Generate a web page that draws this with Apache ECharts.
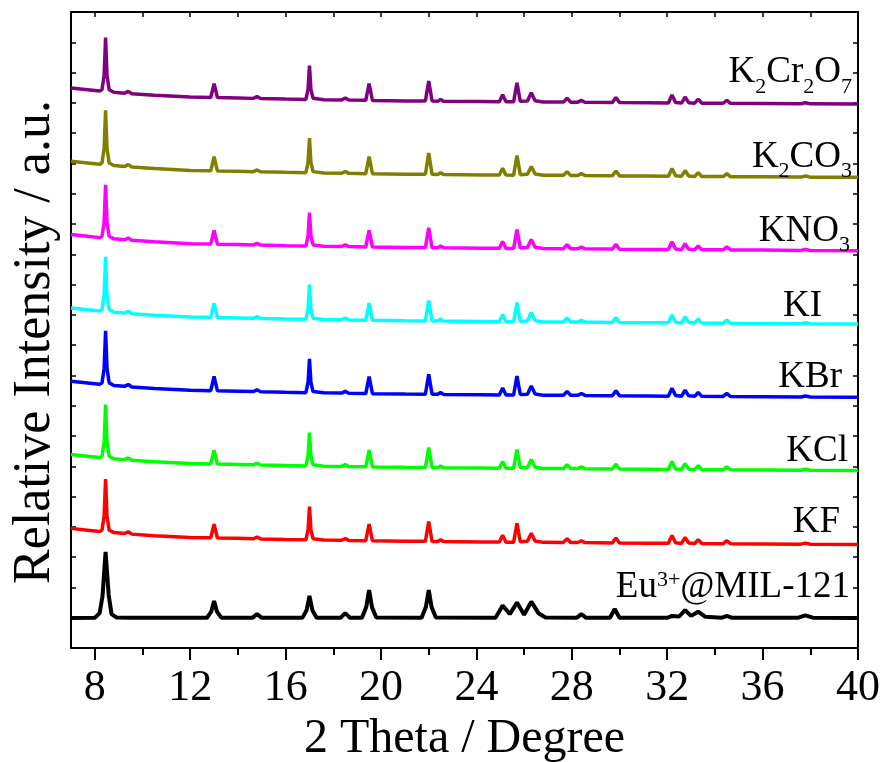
<!DOCTYPE html>
<html>
<head>
<meta charset="utf-8">
<script src="https://cdn.jsdelivr.net/npm/echarts@6/dist/echarts.min.js"></script>
<style>
  html, body { margin: 0; padding: 0; background: #fff; }
  #chart { width: 888px; height: 762px; }
</style>
</head>
<body>
<div id="chart"></div>
<script>
// 2θ grid shared by the potassium-salt patterns
const thetaK = [7.0, 7.6, 8.2, 8.3, 8.39, 8.45, 8.51, 8.6, 8.8, 9.25, 9.4, 9.55, 10.5, 12.0, 12.86, 13.0, 13.14, 14.0, 14.65, 14.8,
  14.95, 16.0, 16.85, 16.94, 17.0, 17.06, 17.15, 17.6, 18.35, 18.5, 18.65, 19.36, 19.5, 19.64, 21.0, 21.86, 22.0, 22.14, 22.38, 22.5,
  22.62, 24.2, 24.96, 25.1, 25.24, 25.56, 25.7, 25.84, 26.14, 26.3, 26.46, 26.8, 27.65, 27.8, 27.95, 28.25, 28.4, 28.55, 29.7, 29.85,
  30.0, 31.2, 32.05, 32.2, 32.35, 32.6, 32.75, 32.9, 33.15, 33.3, 33.45, 34.35, 34.5, 34.65, 36.0, 37.6, 37.8, 38.0, 40.0];

// relative intensities (a.u.) on thetaK
const intK2Cr2O7 = [530, 480, 430, 472, 952, 2195, 946, 475, 390, 360, 420, 340, 290, 230, 217, 675, 213, 200, 188, 245,
  183, 165, 152, 487, 1270, 486, 189, 145, 137, 195, 133, 122, 680, 118, 105, 101, 760, 99, 96, 155,
  94, 82, 76, 305, 74, 73, 702, 90, 101, 370, 110, 68, 66, 195, 64, 63, 122, 61, 51, 215,
  49, 42, 36, 300, 54, 33, 232, 46, 30, 160, 29, 26, 125, 24, 18, 9, 43, 7, 0];
const intK2CO3 = [530, 480, 430, 472, 958, 2215, 952, 475, 390, 360, 420, 340, 290, 230, 217, 680, 213, 200, 188, 245,
  183, 165, 152, 496, 1300, 495, 189, 145, 137, 195, 133, 122, 690, 118, 105, 101, 800, 99, 96, 155,
  94, 82, 76, 300, 74, 73, 722, 90, 101, 360, 110, 68, 66, 190, 64, 63, 122, 61, 51, 210,
  49, 42, 36, 290, 54, 33, 225, 46, 30, 155, 29, 26, 120, 24, 18, 9, 43, 7, 0];
const intKNO3 = [530, 480, 430, 470, 945, 2175, 940, 473, 390, 360, 418, 340, 290, 230, 217, 670, 213, 200, 188, 240,
  183, 165, 152, 484, 1260, 483, 189, 145, 137, 192, 133, 122, 672, 118, 105, 101, 752, 99, 96, 150,
  94, 82, 76, 300, 74, 73, 700, 90, 101, 372, 110, 68, 66, 195, 64, 63, 120, 61, 51, 212,
  49, 42, 36, 295, 54, 33, 228, 46, 30, 158, 29, 26, 122, 24, 18, 9, 43, 7, 0];
const intKI = [530, 480, 430, 474, 958, 2215, 952, 476, 390, 360, 420, 340, 290, 230, 217, 678, 213, 200, 188, 245,
  183, 165, 152, 496, 1300, 495, 189, 145, 137, 195, 133, 122, 688, 118, 105, 101, 770, 99, 96, 155,
  94, 82, 76, 302, 74, 73, 710, 90, 101, 375, 110, 68, 66, 195, 64, 63, 122, 61, 51, 215,
  49, 42, 36, 298, 54, 33, 230, 46, 30, 160, 29, 26, 125, 24, 18, 9, 43, 7, 0];
const intKBr = [530, 480, 430, 472, 952, 2195, 946, 475, 390, 360, 420, 340, 290, 230, 217, 685, 213, 200, 188, 245,
  183, 165, 152, 487, 1270, 486, 189, 145, 137, 195, 133, 122, 680, 118, 105, 101, 760, 99, 96, 155,
  94, 82, 76, 305, 74, 73, 700, 90, 101, 370, 110, 68, 66, 195, 64, 63, 122, 61, 51, 215,
  49, 42, 36, 300, 54, 33, 232, 46, 30, 160, 29, 26, 125, 24, 18, 9, 43, 7, 0];
const intKCl = [530, 480, 430, 470, 945, 2175, 940, 473, 390, 360, 418, 340, 290, 230, 217, 670, 213, 200, 188, 242,
  183, 165, 152, 480, 1250, 480, 189, 145, 137, 193, 133, 122, 675, 118, 105, 101, 755, 99, 96, 152,
  94, 82, 76, 300, 74, 73, 695, 90, 101, 365, 110, 68, 66, 192, 64, 63, 120, 61, 51, 210,
  49, 42, 36, 295, 54, 33, 228, 46, 30, 158, 29, 26, 122, 24, 18, 9, 43, 7, 0];
const intKF = [530, 480, 430, 468, 940, 2155, 935, 472, 390, 360, 418, 340, 290, 230, 217, 665, 213, 200, 188, 242,
  183, 165, 152, 480, 1250, 480, 189, 145, 137, 193, 133, 122, 675, 118, 105, 101, 755, 99, 96, 152,
  94, 82, 76, 300, 74, 73, 695, 90, 101, 365, 110, 68, 66, 192, 64, 63, 120, 61, 51, 210,
  49, 42, 36, 295, 54, 33, 228, 46, 30, 158, 29, 26, 122, 24, 18, 9, 43, 7, 0];

// Eu3+@MIL-121 pattern, its own 2θ grid
const thetaEu = [7.0, 8.0, 8.2, 8.32, 8.45, 8.58, 8.7, 8.9, 9.5, 12.7, 12.88, 13.0, 13.12, 13.3, 14.6, 14.8, 15.0, 16.7, 16.88, 17.0,
  17.12, 17.3, 18.3, 18.5, 18.7, 19.2, 19.38, 19.5, 19.62, 19.8, 21.7, 21.88, 22.0, 22.12, 22.3, 24.8, 25.1, 25.4, 25.7, 26.0,
  26.3, 26.6, 26.9, 28.2, 28.4, 28.6, 29.6, 29.8, 30.0, 32.0, 32.2, 32.5, 32.75, 33.0, 33.3, 33.6, 34.3, 34.5, 34.7, 37.5,
  37.8, 38.1, 40.0];
const intEu = [990, 1000, 1150, 1700, 3170, 1750, 1120, 1010, 995, 995, 1200, 1550, 1200, 1000, 995, 1120, 995, 995, 1250, 1720,
  1250, 1000, 995, 1150, 995, 1000, 1350, 1910, 1350, 1010, 995, 1350, 1910, 1350, 1010, 1000, 1400, 1120, 1500, 1100,
  1530, 1150, 1010, 995, 1120, 995, 1000, 1290, 1000, 995, 1060, 1040, 1250, 1060, 1200, 1030, 1000, 1060, 1000, 1000,
  1080, 1000, 990];

// vertical stacking offset of each pattern, bottom to top
const sampleNames = ['Eu3+@MIL-121', 'KF', 'KCl', 'KBr', 'KI', 'KNO3', 'K2CO3', 'K2Cr2O7'];
const stackOffset = [0, 3420, 5860, 8280, 10700, 13120, 15540, 17960];

const majorTicks = [8, 12, 16, 20, 24, 28, 32, 36, 40];
const minorTicks = [10, 14, 18, 22, 26, 30, 34, 38];
const topTicks = [8, 10, 12, 14, 16, 18, 20, 22, 24, 26, 28, 30, 32, 34, 36, 38, 40];

const FONT = 'Liberation Serif';
const lineColors = ['#000000', '#ff0000', '#00ff00', '#0000ff', '#00ffff', '#ff00ff', '#808000', '#800080'];
const labelRich = {
  'Eu3+@MIL-121': '{m|Eu}{p|3+}{m|@MIL-121}',
  KF: '{m|KF}',
  KCl: '{m|KCl}',
  KBr: '{m|KBr}',
  KI: '{m|KI}',
  KNO3: '{m|KNO}{s|3}',
  K2CO3: '{m|K}{s|2}{m|CO}{s|3}',
  K2Cr2O7: '{m|K}{s|2}{m|Cr}{s|2}{m|O}{s|7}'
};
// label nudge [x, y] in px from the line end
const labelShift = [[-8, -5], [-18, 3], [-10, 6], [-16, 6], [-36, 8], [-8, 6], [-6, 5], [-6, -6]];

const chart = echarts.init(document.getElementById('chart'));

const patterns = [
  [thetaEu, intEu], [thetaK, intKF], [thetaK, intKCl], [thetaK, intKBr],
  [thetaK, intKI], [thetaK, intKNO3], [thetaK, intK2CO3], [thetaK, intK2Cr2O7]
];

const series = patterns.map(([xs, ys], i) => ({
  name: sampleNames[i],
  type: 'line',
  showSymbol: false,
  symbol: 'none',
  silent: true,
  lineStyle: { color: lineColors[i], width: i === 0 ? 4 : 3.5 },
  data: xs.map((x, k) => [x, ys[k] + stackOffset[i]]),
  endLabel: {
    show: true,
    distance: 0,
    align: 'right',
    verticalAlign: 'bottom',
    offset: labelShift[i],
    formatter: labelRich[sampleNames[i]],
    rich: {
      m: { fontFamily: FONT, fontSize: 37, lineHeight: 44, color: '#000', verticalAlign: 'top' },
      s: { fontFamily: FONT, fontSize: 22, lineHeight: 12, color: '#000', verticalAlign: 'bottom' },
      p: { fontFamily: FONT, fontSize: 22, lineHeight: 16, color: '#000', verticalAlign: 'top' }
    }
  }
}));

const axisLineStyle = { color: '#000', width: 2 };

chart.setOption({
  animation: false,
  backgroundColor: '#fff',
  grid: { left: 71, right: 30, top: 12, bottom: 114, outerBoundsMode: 'none' },
  xAxis: [
    {
      type: 'value', min: 7, max: 40, position: 'bottom',
      axisLine: { show: true, lineStyle: axisLineStyle },
      axisTick: { show: true, customValues: majorTicks, length: 12, lineStyle: { color: '#000', width: 2 } },
      axisLabel: { customValues: majorTicks, margin: 18, fontSize: 44, fontFamily: FONT, color: '#000' },
      splitLine: { show: false },
      name: '2 Theta / Degree', nameLocation: 'middle', nameGap: 63,
      nameTextStyle: { fontSize: 48, fontFamily: FONT, color: '#000' }
    },
    {
      type: 'value', min: 7, max: 40, position: 'bottom',
      axisLine: { show: false },
      axisTick: { show: true, customValues: minorTicks, length: 7, lineStyle: { color: '#000', width: 2 } },
      axisLabel: { show: false },
      splitLine: { show: false }
    },
    {
      type: 'value', min: 7, max: 40, position: 'top',
      axisLine: { show: true, lineStyle: axisLineStyle },
      axisTick: { show: true, inside: true, customValues: topTicks, length: 5, lineStyle: { color: '#000', width: 1.5 } },
      axisLabel: { show: false },
      splitLine: { show: false }
    }
  ],
  yAxis: [
    {
      type: 'value', min: 0, max: 21000, interval: 1000, position: 'left',
      axisLine: { show: true, lineStyle: axisLineStyle },
      axisTick: { show: true, inside: true, length: 5, lineStyle: { color: '#000', width: 1.5 } },
      axisLabel: { show: false },
      splitLine: { show: false },
      name: 'Relative Intensity / a.u.', nameLocation: 'middle', nameGap: 10,
      nameTextStyle: { fontSize: 52, fontFamily: FONT, color: '#000', padding: [0, 24, 0, 0] }
    },
    {
      type: 'value', min: 0, max: 21000, interval: 1000, position: 'right',
      axisLine: { show: true, lineStyle: axisLineStyle },
      axisTick: { show: true, inside: true, length: 5, lineStyle: { color: '#000', width: 1.5 } },
      axisLabel: { show: false },
      splitLine: { show: false }
    }
  ],
  series
});
</script>
</body>
</html>
